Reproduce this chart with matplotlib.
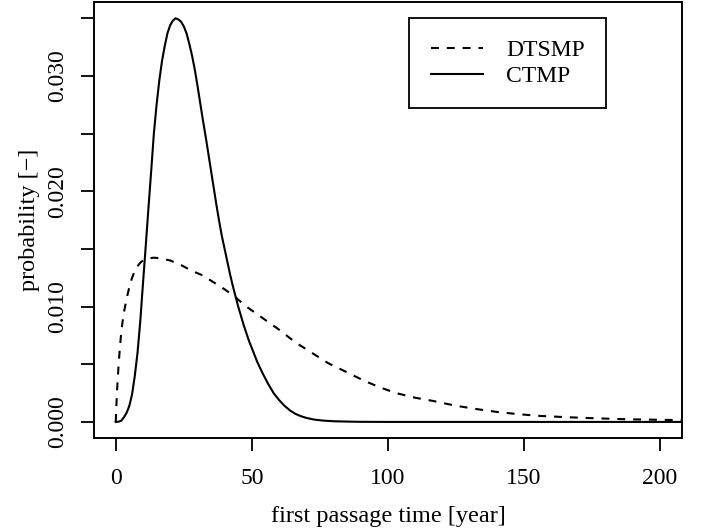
import matplotlib.pyplot as plt

plt.rcParams['font.family'] = ['Liberation Serif', 'DejaVu Serif']

# values
t_ctmp = [0, 1, 2, 3, 4, 5, 6, 7, 8, 9, 10, 11, 12, 13, 14, 15, 16, 17, 18,
          19, 20, 21, 22, 23, 24, 25, 26, 27, 28, 29, 30, 31, 32, 33, 34, 35,
          36, 37, 38, 39, 40, 41, 42, 43, 44, 45, 46, 47, 48, 49, 50, 52, 54,
          56, 58, 60, 62, 64, 66, 68, 70, 73, 76, 80, 85, 90, 100, 150, 215]
p_ctmp = [0.0, 0.00002, 0.0001, 0.0004, 0.0008, 0.0014, 0.0024, 0.0040,
          0.0060, 0.0087, 0.0120, 0.0152, 0.0185, 0.0217, 0.0250, 0.0275,
          0.0296, 0.0313, 0.0326, 0.0337, 0.0344, 0.0348, 0.0350, 0.0349,
          0.0347, 0.0343, 0.0337, 0.0328, 0.0318, 0.0306, 0.0292, 0.0277,
          0.0262, 0.0248, 0.0233, 0.0218, 0.0203, 0.0188, 0.0174, 0.0161,
          0.0150, 0.0139, 0.0128, 0.0118, 0.0109, 0.0100, 0.0092, 0.0084,
          0.0077, 0.0070, 0.0064, 0.0052, 0.0042, 0.0033, 0.0025, 0.0019,
          0.0014, 0.0010, 0.0007, 0.0005, 0.00035, 0.0002, 0.00012, 0.00006,
          0.00003, 0.00001, 0.0, 0.0, 0.0]

t_dtsmp = [0, 0.25, 0.5, 1, 1.5, 2, 2.5, 3, 4, 5, 6, 7, 8, 9, 10, 12, 14, 16,
           20, 24, 28, 32, 36, 40, 44, 48, 54, 60, 66, 72, 78, 85, 91, 97,
           103, 110, 117, 125, 133, 140, 148, 156, 164, 172, 180, 188, 196,
           204, 215]
p_dtsmp = [0.0, 0.0015, 0.0028, 0.0048, 0.0064, 0.0077, 0.0087, 0.0095,
           0.0107, 0.0117, 0.0125, 0.0131, 0.0135, 0.0138, 0.0140, 0.01418,
           0.01424, 0.0142, 0.0140, 0.0136, 0.0131, 0.0127, 0.0121, 0.0115,
           0.0108, 0.0100, 0.0090, 0.0080, 0.0069, 0.0060, 0.0051, 0.0043,
           0.0036, 0.0030, 0.0025, 0.0021, 0.0018, 0.0014, 0.0011, 0.00087,
           0.00067, 0.00052, 0.00043, 0.00035, 0.00029, 0.00023, 0.00020,
           0.00017, 0.00014]

x_ticks = [0, 50, 100, 150, 200]
y_ticks = [0.000, 0.005, 0.010, 0.015, 0.020, 0.025, 0.030, 0.035]
y_labels = ['0.000', '', '0.010', '', '0.020', '', '0.030', '']

fig = plt.figure(figsize=(7.04, 5.31), dpi=100)
ax = fig.add_axes([0.1335, 0.175, 0.835, 0.821])

ax.plot(t_dtsmp, p_dtsmp, color='black', lw=1.5, dashes=(3.8, 3.8),
        label='DTSMP')
ax.plot(t_ctmp, p_ctmp, color='black', lw=1.5, label='CTMP')

ax.set_xlim(-8, 208)
ax.set_ylim(-0.0014, 0.0364)
ax.set_xticks(x_ticks)
ax.set_yticks(y_ticks)
ax.set_yticklabels(y_labels, rotation=90, va='center')
ax.tick_params(direction='out', length=9.5, width=1.3, labelsize=17,
               color='black')
ax.tick_params(axis='x', pad=12)
ax.tick_params(axis='y', pad=9)
for s in ax.spines.values():
    s.set_linewidth(1.4)

ax.set_xlabel('first passage time [year]', fontsize=17.5, labelpad=12)
ax.set_ylabel('probability [\u2212]', fontsize=17.5, labelpad=5)

leg = ax.legend(loc='upper right', bbox_to_anchor=(0.861, 0.966),
                bbox_transform=fig.transFigure, borderaxespad=0,
                fontsize=17, fancybox=False, framealpha=1, edgecolor='black',
                handlelength=2.2, handletextpad=1.0, borderpad=0.9,
                labelspacing=0.2)
leg.get_frame().set_linewidth(1.3)

fig.savefig('out.png', dpi=100)
